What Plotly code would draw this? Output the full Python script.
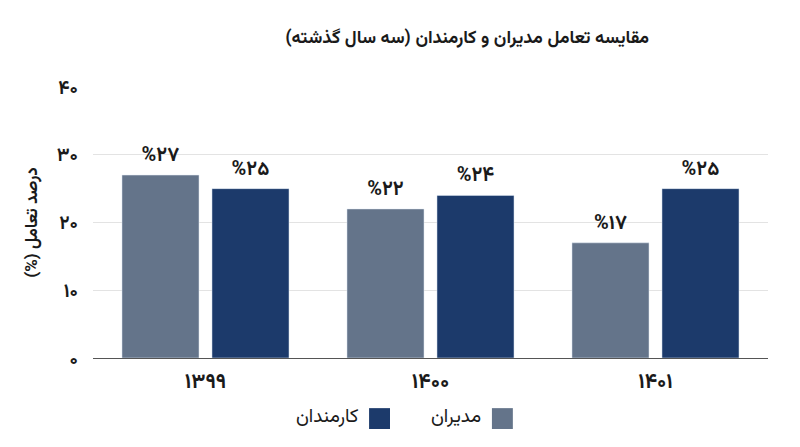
import plotly.graph_objects as go

categories = ["۱۳۹۹", "۱۴۰۰", "۱۴۰۱"]
series_names = ["مدیران", "کارمندان"]
managers = [27, 22, 17]
employees = [25, 24, 25]
managers_labels = ["%۲۷", "%۲۲", "%۱۷"]
employees_labels = ["%۲۵", "%۲۴", "%۲۵"]
tick_vals = [0, 10, 20, 30, 40]
tick_text = ["۰", "۱۰", "۲۰", "۳۰", "۴۰"]

FONT = "Vazirmatn, Noto Sans Arabic, DejaVu Sans, sans-serif"
GRAY = "#64748a"
BLUE = "#1c3a6b"
colors = [GRAY, BLUE]
RLE, PDF = "\u202b", "\u202c"

fig = go.Figure()
for name, vals, labels, col in zip(series_names, [managers, employees],
                                    [managers_labels, employees_labels], colors):
    fig.add_trace(go.Bar(
        x=categories, y=vals, name=name, marker_color=col,
        text=labels, textposition="outside", cliponaxis=False,
        textfont=dict(family=FONT, size=20, color="#1a1a1a", weight="bold"),
        showlegend=False,
    ))

# RTL legend (swatch on the right of its label), placed below the plot
legend_swatch_x = [0.591, 0.409]   # paper x of swatch left edges (مدیران, کارمندان)
for name, col, sx in zip(series_names, colors, legend_swatch_x):
    fig.add_shape(type="rect", xref="paper", yref="paper",
                  x0=sx, x1=sx + 0.031, y0=-0.262, y1=-0.185,
                  fillcolor=col, line=dict(width=0))
    fig.add_annotation(text=name, xref="paper", yref="paper",
                       x=sx - 0.013, y=-0.221, xanchor="right", yanchor="middle",
                       showarrow=False,
                       font=dict(family=FONT, size=19, color="#1a1a1a"))

fig.update_layout(
    width=800, height=447,
    paper_bgcolor="white", plot_bgcolor="white",
    margin=dict(l=93, r=32, t=87, b=89, autoexpand=False),
    barmode="group", bargap=0.2, bargroupgap=0.144,
    font=dict(family=FONT, color="#1a1a1a"),
    title=dict(text=RLE + "مقایسه تعامل مدیران و کارمندان (سه سال گذشته)" + PDF,
               x=0.584, xanchor="center", y=0.918, yanchor="middle",
               font=dict(family=FONT, size=18, color="#1a1a1a", weight="bold")),
    showlegend=False,
)
fig.update_xaxes(
    showgrid=False, showline=True, linecolor="#555555", linewidth=1,
    tickfont=dict(family=FONT, size=21, color="#1a1a1a", weight="bold"),
    ticks="", ticklabelstandoff=4, automargin=False,
)
fig.update_yaxes(
    range=[0, 40], tickvals=tick_vals, ticktext=tick_text,
    showgrid=True, gridcolor="#e3e3e3", gridwidth=1, zeroline=False,
    tickfont=dict(family=FONT, size=19, color="#1a1a1a", weight="bold"),
    ticks="", ticklabelstandoff=14, automargin=False,
    title=dict(text=RLE + "درصد تعامل (%)" + PDF, standoff=14,
               font=dict(family=FONT, size=17, color="#1a1a1a", weight="bold")),
)

fig.write_html("out.html", config={"displayModeBar": False},
               post_script="document.body.style.margin='0';")
